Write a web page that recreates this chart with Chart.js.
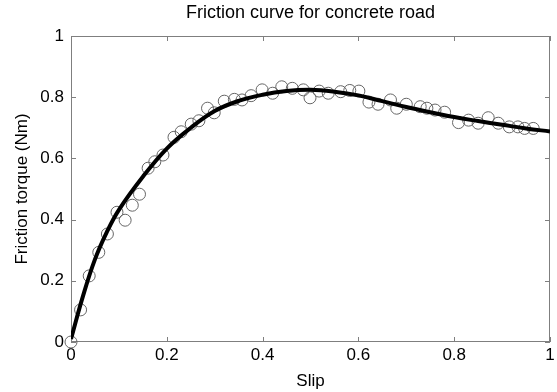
<!DOCTYPE html>
<html>
<head>
<meta charset="utf-8">
<script src="https://cdn.jsdelivr.net/npm/chart.js@4"></script>
<style>
  body { margin: 0; background: #fff; }
  #wrap { width: 557px; height: 392px; }
</style>
</head>
<body>
<div id="wrap"><canvas id="frictionChart" width="557" height="392"></canvas></div>
<script>
// measured points (slip, torque)
var slipMeasured = [0, 0.020, 0.038, 0.058, 0.076, 0.096, 0.113, 0.128, 0.143, 0.161,
    0.175, 0.192, 0.215, 0.230, 0.251, 0.267, 0.285, 0.299, 0.320, 0.341,
    0.357, 0.376, 0.399, 0.421, 0.440, 0.462, 0.485, 0.499, 0.518, 0.537,
    0.563, 0.582, 0.601, 0.622, 0.641, 0.667, 0.680, 0.700, 0.729, 0.743,
    0.760, 0.780, 0.809, 0.830, 0.850, 0.871, 0.892, 0.915, 0.933, 0.947, 0.965];
var torqueMeasured = [0, 0.105, 0.216, 0.293, 0.353, 0.424, 0.398, 0.447, 0.483, 0.568,
    0.589, 0.611, 0.669, 0.687, 0.712, 0.723, 0.764, 0.749, 0.787, 0.793,
    0.791, 0.805, 0.824, 0.813, 0.834, 0.829, 0.824, 0.798, 0.820, 0.813,
    0.818, 0.822, 0.820, 0.784, 0.777, 0.791, 0.764, 0.777, 0.769, 0.764,
    0.758, 0.751, 0.717, 0.725, 0.715, 0.733, 0.715, 0.703, 0.703, 0.698, 0.698];

// fitted curve
var slipFit = [0, 0.025, 0.05, 0.075, 0.1, 0.15, 0.2, 0.25, 0.3, 0.35, 0.4, 0.45, 0.5,
    0.55, 0.6, 0.65, 0.7, 0.75, 0.8, 0.85, 0.9, 0.95, 1.0];
var torqueFit = [0.01, 0.15, 0.27, 0.36, 0.432, 0.54, 0.632, 0.70, 0.755, 0.788, 0.808, 0.82, 0.824,
    0.818, 0.806, 0.787, 0.768, 0.751, 0.735, 0.722, 0.710, 0.698, 0.688];

var xTicks = [0, 0.2, 0.4, 0.6, 0.8, 1];
var yTicks = [0, 0.2, 0.4, 0.6, 0.8, 1];
var chartTitle = 'Friction curve for concrete road';

var fontFamily = '"Liberation Sans", Arial, Helvetica, sans-serif';

function toPoints(xs, ys) {
    return xs.map(function(x, i) { return { x: x, y: ys[i] }; });
}

function plainLabel(v) { return String(Math.round(v * 10) / 10); }

// matlab style box with inward ticks on all four sides, title centred over the axes
var boxPlugin = {
    id: 'matlabBox',
    beforeDatasetsDraw: function(chart) {
        var ctx = chart.ctx;
        var a = chart.chartArea;
        var xs = chart.scales.x, ys = chart.scales.y;
        var len = 5;
        ctx.save();
        ctx.strokeStyle = '#7f7f7f';
        ctx.lineWidth = 1;
        ctx.strokeRect(Math.round(a.left) + 0.5, Math.round(a.top) + 0.5,
            Math.round(a.right - a.left) - 1, Math.round(a.bottom - a.top) - 1);
        ctx.beginPath();
        xTicks.forEach(function(v) {
            var px = Math.round(xs.getPixelForValue(v)) + 0.5;
            ctx.moveTo(px, a.bottom); ctx.lineTo(px, a.bottom - len);
            ctx.moveTo(px, a.top); ctx.lineTo(px, a.top + len);
        });
        yTicks.forEach(function(v) {
            var py = Math.round(ys.getPixelForValue(v)) + 0.5;
            ctx.moveTo(a.left, py); ctx.lineTo(a.left + len, py);
            ctx.moveTo(a.right, py); ctx.lineTo(a.right - len, py);
        });
        ctx.stroke();

        ctx.fillStyle = '#000';
        ctx.font = '18px ' + fontFamily;
        ctx.textAlign = 'center';
        ctx.textBaseline = 'middle';
        ctx.fillText(chartTitle, (a.left + a.right) / 2, 13);
        ctx.restore();
    }
};

var ctx = document.getElementById('frictionChart').getContext('2d');
var chart = new Chart(ctx, {
    type: 'scatter',
    data: {
        datasets: [
            {
                type: 'line',
                label: 'fit',
                data: toPoints(slipFit, torqueFit),
                borderColor: '#000',
                borderWidth: 4,
                pointRadius: 0,
                fill: false,
                tension: 0.4,
                order: 0
            },
            {
                label: 'measured',
                data: toPoints(slipMeasured, torqueMeasured),
                borderColor: '#666',
                backgroundColor: 'rgba(0,0,0,0)',
                borderWidth: 1,
                pointRadius: 6,
                pointStyle: 'circle',
                clip: false,
                order: 1
            }
        ]
    },
    options: {
        responsive: false,
        animation: false,
        layout: { padding: { left: 0, right: 5, top: 36, bottom: 0 } },
        plugins: {
            legend: { display: false },
            tooltip: { enabled: false },
            title: { display: false }
        },
        scales: {
            x: {
                type: 'linear',
                min: 0, max: 1,
                afterFit: function(s) { s.height = 50; s.paddingLeft = 0; s.paddingRight = 0; },
                afterBuildTicks: function(s) { s.ticks = xTicks.map(function(v) { return { value: v }; }); },
                grid: { display: false, drawTicks: false },
                border: { display: false },
                ticks: { color: '#000', padding: 3, maxRotation: 0, callback: plainLabel,
                    font: { family: fontFamily, size: 17 } },
                title: { display: true, text: 'Slip', color: '#000',
                    font: { family: fontFamily, size: 17 }, padding: { top: 0, bottom: 0 } }
            },
            y: {
                type: 'linear',
                min: 0, max: 1,
                afterFit: function(s) { s.width = 71; s.paddingTop = 0; s.paddingBottom = 0; },
                afterBuildTicks: function(s) { s.ticks = yTicks.map(function(v) { return { value: v }; }); },
                grid: { display: false, drawTicks: false },
                border: { display: false },
                ticks: { color: '#000', padding: 7, callback: plainLabel,
                    font: { family: fontFamily, size: 17 } },
                title: { display: true, text: 'Friction torque (Nm)', color: '#000',
                    font: { family: fontFamily, size: 17 }, padding: { top: 12, bottom: 0 } }
            }
        }
    },
    plugins: [boxPlugin]
});
</script>
</body>
</html>
